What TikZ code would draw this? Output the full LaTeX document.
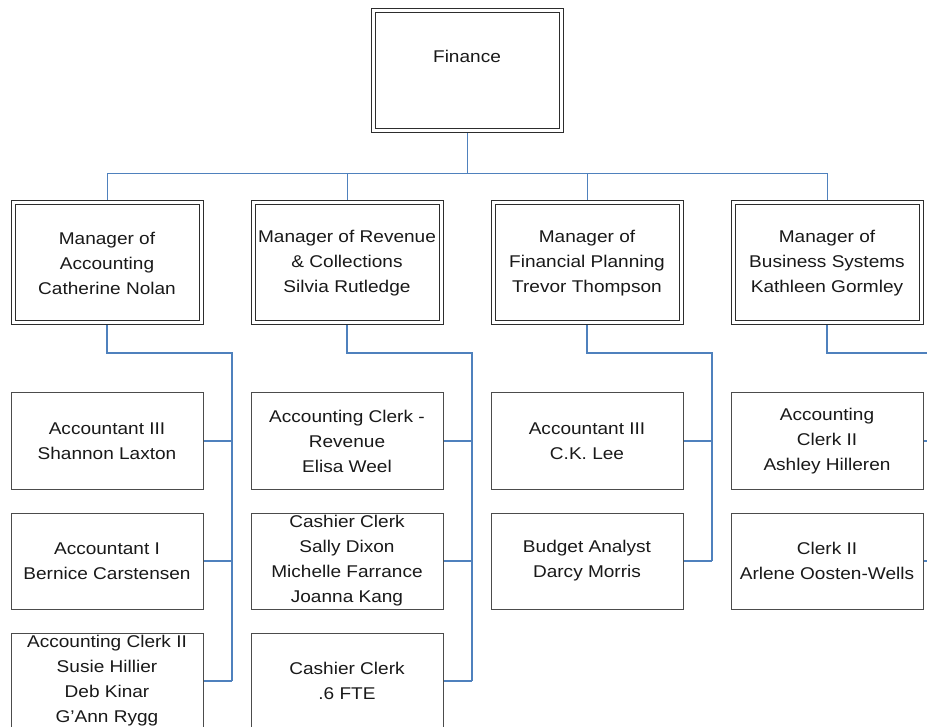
\documentclass[tikz,border=0pt]{standalone}
\usepackage{fontspec}
\setmainfont{Liberation Sans}[FakeStretch=1.12]
\usetikzlibrary{backgrounds}
\definecolor{linkblue}{RGB}{79,129,189}
\definecolor{boxline}{RGB}{45,45,45}
\begin{document}
\begin{tikzpicture}[x=1pt,y=-1pt,
  every node/.style={font=\fontsize{17}{25}\selectfont, text=black!90,
    align=center, outer sep=0pt, inner sep=1pt},
  headbox/.style={draw=boxline, line width=1pt, fill=white,
    minimum width=192pt, minimum height=124pt},
  innerline/.style={draw=boxline, line width=1pt},
  staffbox/.style={draw=boxline!85, line width=1pt, fill=white,
    minimum width=192pt, minimum height=96pt},
  toplink/.style={draw=linkblue, line width=0.9pt},
  sublink/.style={draw=linkblue, line width=1.3pt}]
\useasboundingbox (0,0) rectangle (927,727);

% department head
\node[headbox, text height=12pt, text depth=28pt] (fin) at (467,71) {Finance};

% managers
\node[headbox] (m1) at (107,263) {Manager of\\Accounting\\Catherine Nolan};
\node[headbox] (m2) at (347,263) {Manager of Revenue\\\& Collections\\Silvia Rutledge};
\node[headbox] (m3) at (587,263) {Manager of\\Financial Planning\\Trevor Thompson};
\node[headbox] (m4) at (827,263) {Manager of\\Business Systems\\Kathleen Gormley};

% second frame inside each head box
\foreach \n in {fin,m1,m2,m3,m4}
  \draw[innerline] ([shift={(4pt,-4pt)}]\n.north west)
    rectangle ([shift={(-4pt,4pt)}]\n.south east);

% accounting staff
\node[staffbox] (a1) at (107,441) {Accountant III\\Shannon Laxton};
\node[staffbox] (a2) at (107,561) {Accountant I\\Bernice Carstensen};
\node[staffbox] (a3) at (107,681) {Accounting Clerk II\\Susie Hillier\\Deb Kinar\\G’Ann Rygg};

% revenue staff
\node[staffbox] (r1) at (347,441) {Accounting Clerk -\\Revenue\\Elisa Weel};
\node[staffbox] (r2) at (347,561) {Cashier Clerk\\Sally Dixon\\Michelle Farrance\\Joanna Kang};
\node[staffbox] (r3) at (347,681) {Cashier Clerk\\.6 FTE};

% planning staff
\node[staffbox] (p1) at (587,441) {Accountant III\\C.K. Lee};
\node[staffbox] (p2) at (587,561) {Budget Analyst\\Darcy Morris};

% business systems staff
\node[staffbox] (s1) at (827,441) {Accounting\\Clerk II\\Ashley Hilleren};
\node[staffbox] (s2) at (827,561) {Clerk II\\Arlene Oosten-Wells};

% branch points of the staff connectors
\coordinate (b1) at (232,353);
\coordinate (b2) at (472,353);
\coordinate (b3) at (712,353);
\coordinate (b4) at (952,353);

\begin{scope}[on background layer]
  \foreach \m in {m1,m2,m3,m4}
    \draw[toplink] (fin.south) -- ++(0,40) -| (\m.north);

  \draw[sublink] (m1.south) |- (b1) -- (b1 |- a3.east);
  \foreach \c in {a1,a2,a3} \draw[sublink] (\c.east) -- (\c.east -| b1);

  \draw[sublink] (m2.south) |- (b2) -- (b2 |- r3.east);
  \foreach \c in {r1,r2,r3} \draw[sublink] (\c.east) -- (\c.east -| b2);

  \draw[sublink] (m3.south) |- (b3) -- (b3 |- p2.east);
  \foreach \c in {p1,p2} \draw[sublink] (\c.east) -- (\c.east -| b3);

  \draw[sublink] (m4.south) |- (b4) -- (b4 |- s2.east);
  \foreach \c in {s1,s2} \draw[sublink] (\c.east) -- (\c.east -| b4);
\end{scope}
\end{tikzpicture}
\end{document}
